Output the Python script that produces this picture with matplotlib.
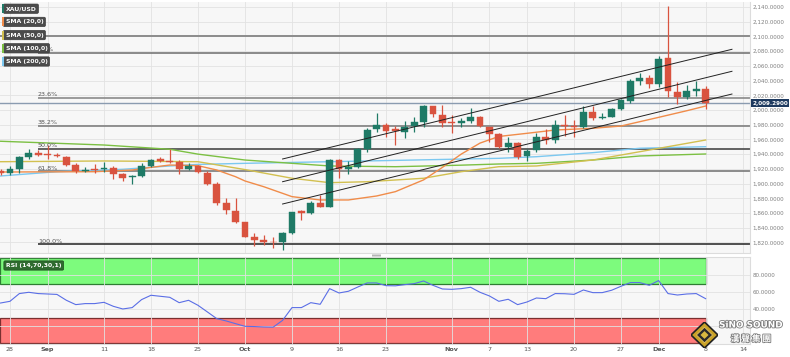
import numpy as np
import matplotlib
matplotlib.use("Agg")
import matplotlib.pyplot as plt
from matplotlib.patches import Rectangle, FancyBboxPatch, Polygon
import matplotlib.patheffects as pe

plt.rcParams['font.family'] = ['DejaVu Sans']

W, H = 790, 357

# daily XAU/USD candles, trading-day index -1 (Aug 25) .. 74 (Dec 8)
opens = [1917, 1914.8, 1919.4, 1936, 1942, 1940, 1938.5, 1936.5, 1924.8, 1917, 1920,
         1919.5, 1921, 1912.6, 1909, 1910, 1924, 1933, 1930.4, 1929, 1920,
         1924.4, 1915, 1900, 1874, 1863, 1847.3, 1827.4, 1823.3, 1821, 1820.2,
         1832.5, 1862.3, 1860, 1874, 1868.6, 1932, 1919.4, 1922, 1946.6, 1973.8,
         1980, 1974, 1970.5, 1978.2, 1983.3, 2005.4, 1993.2, 1983.7, 1982, 1985,
         1991, 1976.4, 1967.4, 1949.3, 1955.6, 1937.8, 1945.6, 1963, 1959.2, 1980,
         1978, 1977.3, 1997, 1988.6, 1991, 2001, 2012.6, 2040, 2043, 2035.3,
         2070.3, 2025, 2018, 2026, 2028]
highs = [1920, 1924, 1937.5, 1947, 1945, 1952, 1942, 1937.5, 1928.4, 1922.4, 1926,
         1929, 1924, 1914, 1911, 1928.4, 1934, 1936, 1946.6, 1932, 1927.5,
         1925.6, 1917, 1901.8, 1880, 1880, 1848, 1833, 1830, 1828, 1834.6,
         1862, 1864, 1876, 1884.5, 1933, 1934, 1931, 1948, 1976, 1996.3,
         1982.6, 1978, 1985, 1991, 2007, 2006, 2006.8, 1993, 1989, 2002.3,
         1991.5, 1977, 1969, 1963, 1957, 1947.4, 1969, 1973.8, 1986.4, 1993,
         1987, 2005.4, 2005.4, 1996.3, 2002.3, 2015.6, 2042, 2050.7, 2047.6, 2073.4,
         2141.8, 2038.5, 2034, 2039, 2032.6]
lows = [1911, 1911.7, 1914, 1934, 1937, 1933.4, 1935.5, 1924, 1914.8, 1916, 1915,
        1916, 1906.6, 1904, 1900, 1909, 1922, 1929, 1927.5, 1913, 1919,
        1914, 1898, 1871, 1859, 1846, 1827, 1815.6, 1817, 1813, 1809.7,
        1832, 1851, 1859, 1867.8, 1868, 1907, 1913, 1921, 1943.3, 1970.5,
        1963, 1952.4, 1961.5, 1970.5, 1977, 1991, 1977.3, 1969, 1977.3, 1982,
        1977, 1957, 1948, 1943.3, 1933, 1931, 1943.3, 1953.8, 1955.6, 1965,
        1963.7, 1975, 1986.4, 1987.8, 1990, 1999.5, 2009.5, 2034, 2029.5, 2031.7,
        2018, 2008, 2015, 2019.5, 2001]
closes = [1915, 1919.4, 1935.7, 1941.5, 1939, 1939, 1937, 1925.2, 1917, 1919, 1918.5,
          1921, 1913, 1908, 1910.3, 1924, 1932, 1931, 1929, 1919.4, 1924.4,
          1915.7, 1900, 1873.2, 1864, 1848, 1827.8, 1823.3, 1821, 1820, 1832.5,
          1861, 1860.4, 1874, 1868.6, 1932, 1919.4, 1922, 1946.6, 1972.8, 1979.6,
          1972, 1972, 1977.3, 1983.3, 2005.4, 1994.6, 1982.8, 1982.8, 1985, 1991,
          1978, 1967.4, 1949.3, 1955.6, 1935.7, 1944.7, 1963, 1959.2, 1979.2, 1978,
          1977, 1997, 1988.6, 1991, 2001, 2013.6, 2040, 2043, 2035.3, 2069,
          2026.2, 2018, 2025.4, 2028, 2009]

rsi = [47.4, 49.4, 58.5, 60.0, 58.5, 58.0, 57.5, 50.6, 45.5, 46.7, 46.7,
       48.2, 43.5, 40.4, 42.0, 51.4, 56.5, 55.3, 54.1, 47.8, 50.6,
       44.7, 36.9, 29.0, 26.3, 23.1, 20.0, 19.7, 19.2, 19.0, 27.0,
       42.0, 42.0, 47.8, 45.9, 64.3, 59.2, 61.2, 66.2, 71.0, 71.0,
       67.8, 67.6, 69.0, 70.2, 73.3, 68.2, 63.9, 63.5, 64.3, 65.9,
       60.0, 55.7, 49.4, 51.8, 45.5, 48.6, 53.3, 52.5, 58.5, 58.3,
       57.6, 62.7, 59.6, 59.6, 62.4, 67.1, 71.4, 71.4, 68.2, 73.8,
       58.5, 56.8, 58.0, 58.5, 52.5]

days = np.arange(-1, -1 + len(opens))

# moving averages
sma20_x = [-1, 9, 13, 15, 17, 20, 22, 24, 25, 27, 30, 33, 36, 39, 41, 44, 46, 48, 50, 52, 55, 58, 62, 65, 69, 72, 74]
sma20_y = [1915.7, 1916.1, 1918.4, 1922, 1925.2, 1924.3, 1918.4, 1909.3, 1903.5, 1895.7, 1882.2, 1877.7, 1877.7,
           1883.1, 1889, 1905, 1922, 1940, 1955, 1964, 1968.3, 1972.8, 1975.1, 1978.2, 1990, 1999, 2005.4]
sma50_x = [-1, 10, 20, 25, 30, 34, 38, 44, 48, 52, 56, 62, 67, 74]
sma50_y = [1929.7, 1930.7, 1929.7, 1919, 1907.2, 1901.2, 1902.5, 1907.2, 1916.1, 1922.9, 1923.9, 1932, 1943.3, 1959.2]
sma100_x = [-1, 10, 17, 20, 25, 30, 34, 41, 48, 52, 56, 62, 67, 74]
sma100_y = [1957.5, 1952.4, 1946.6, 1940, 1932, 1927.5, 1923.9, 1922.9, 1925, 1926.6, 1927.5, 1932, 1937.5, 1940.2]
sma200_x = [-1, 5, 12, 17, 20, 25, 34, 43, 52, 56, 62, 67, 74]
sma200_y = [1910.3, 1916.1, 1919.4, 1923.9, 1926, 1927.5, 1929.7, 1932, 1934.3, 1936.5, 1942, 1948, 1950.1]

fib_levels = [2077.5, 2016.2, 1978.3, 1947.5, 1916.9, 1817.5]
fib_labels = ['0.0%', '23.6%', '38.2%', '50.0%', '61.8%', '100.0%']
resistance = 2100
last_price = 2009.29

channel_x = [29, 76.8]
channel_upper = [1933.4, 2082.5]
channel_mid = [1902.5, 2052.6]
channel_lower = [1872.2, 2021.7]

tick_pos = [0, 4, 10, 15, 20, 25, 30, 35, 40, 47, 51, 55, 60, 65, 69, 74, 78]
tick_lab = ['28', 'Sep', '11', '18', '25', 'Oct', '9', '16', '23', 'Nov', '7', '13', '20', '27', 'Dec', '8', '14']
months = {'Sep', 'Oct', 'Nov', 'Dec'}

price_ticks = np.arange(1820, 2141, 20)
rsi_ticks = [20, 40, 60, 80]

bull, bear = '#1f7a66', '#d9533f'
c20, c50, c100, c200 = '#f08c4a', '#d2c050', '#7cc043', '#7cc8f0'
XL = (-1.06, 78.72)
TICK_FS = 4.1


def fbox(x0, y0, x1, y1):
    return [x0 / W, 1 - y1 / H, (x1 - x0) / W, (y1 - y0) / H]


fig = plt.figure(figsize=(7.9, 3.57), dpi=100)
fig.patch.set_facecolor('white')

# ---- price panel
ax = fig.add_axes(fbox(0, 2, 750, 253))
ax.set_facecolor('#f7f7f7')
ax.set_xlim(*XL)
ax.set_ylim(1805.6, 2146.8)

o, hh, ll, c = map(np.array, (opens, highs, lows, closes))
col = np.where(c >= o, bull, bear)
ax.vlines(days, ll, hh, colors=col, lw=0.9, zorder=4)
ax.bar(days, np.maximum(np.abs(c - o), 0.9), bottom=np.minimum(o, c), width=0.72,
       color=col, edgecolor=col, lw=0.3, zorder=5)

ax.plot(sma200_x, sma200_y, color=c200, lw=1.0, zorder=3)
ax.plot(sma100_x, sma100_y, color=c100, lw=1.0, zorder=3)
ax.plot(sma50_x, sma50_y, color=c50, lw=1.0, zorder=3)
ax.plot(sma20_x, sma20_y, color=c20, lw=1.0, zorder=3)

fib_cols = ['#777777', '#8a8a8a', '#808080', '#4a4a4a', '#7a7a7a', '#333333']
for lvl, lab, fc in zip(fib_levels, fib_labels, fib_cols):
    ax.hlines(lvl, 2.98, XL[1], color=fc, lw=1.2, zorder=2)
    ax.text(2.98, lvl + 0.8, lab, fontsize=4.6, color='#555555', va='bottom', ha='left', zorder=6)
ax.axhline(resistance, color='#8c8c8c', lw=1.4, zorder=2)
ax.axhline(last_price, color='#8a9bb0', lw=1.0, zorder=2)

for ch in (channel_upper, channel_mid, channel_lower):
    ax.plot(channel_x, ch, color='#222222', lw=0.7, zorder=6)

ax.yaxis.tick_right()
ax.set_yticks(price_ticks)
ax.set_yticklabels([f"{v:,.4f}" for v in price_ticks])
ax.tick_params(axis='y', length=0, pad=2, labelsize=TICK_FS, labelcolor='#808080')
ax.set_xticks(tick_pos)
ax.tick_params(axis='x', length=0, labelbottom=False)
ax.grid(True, color='#e2e2e2', lw=0.6)
for s in ax.spines.values():
    s.set_color('#dcdcdc')
    s.set_linewidth(0.8)
ax.spines['top'].set_visible(False)
ax.spines['left'].set_visible(False)

ax.text(1.003, last_price, f"{last_price:,.4f}", transform=ax.get_yaxis_transform(),
        fontsize=TICK_FS, color='white', weight='bold', va='center', ha='left',
        bbox=dict(boxstyle='square,pad=0.25', fc='#1e3a5f', ec='none'), clip_on=False)

# ---- RSI panel
rx = fig.add_axes(fbox(0, 257, 750, 344))
rx.set_facecolor('#f7f7f7')
rx.set_xlim(*XL)
rx.set_ylim(-0.8, 101.5)
rx.add_patch(Rectangle((XL[0], 70), days[-1] - XL[0], 30, fc='#7dfb7d', ec='#2e7d32', lw=0.9, zorder=1))
rx.add_patch(Rectangle((XL[0], 0), days[-1] - XL[0], 30, fc='#ff7c7c', ec='#7a3030', lw=0.9, zorder=1))
rx.plot(days, rsi, color='#5a6ee6', lw=0.8, zorder=4)
rx.yaxis.tick_right()
rx.set_yticks(rsi_ticks)
rx.set_yticklabels([f"{v:.4f}" for v in rsi_ticks])
rx.tick_params(axis='y', length=0, pad=2, labelsize=TICK_FS, labelcolor='#808080')
rx.set_xticks(tick_pos)
rx.set_xticklabels(tick_lab)
rx.tick_params(axis='x', length=0, pad=2, labelsize=4.6, labelcolor='#555555')
for t in rx.get_xticklabels():
    if t.get_text() in months:
        t.set_fontweight('bold')
rx.grid(True, color='#e2e2e2', lw=0.6)
for s in rx.spines.values():
    s.set_color('#dcdcdc')
    s.set_linewidth(0.8)
rx.spines['left'].set_visible(False)

# panel divider handle
fig.add_artist(FancyBboxPatch((372 / W, 1 - 256.5 / H), 9 / W, 2 / H, boxstyle='round,pad=0',
                              transform=fig.transFigure, fc='#b5b5b5', ec='none'))

# ---- legend tags
legend_items = [("XAU/USD", bull), ("SMA (20,0)", c20), ("SMA (50,0)", c50),
                ("SMA (100,0)", c100), ("SMA (200,0)", c200)]
for k, (lab, cc) in enumerate(legend_items):
    yc = 8.7 + k * 13.2
    fig.text(5.5 / W, 1 - yc / H, lab, fontsize=4.4, color='white', weight='bold', va='center', ha='left',
             bbox=dict(boxstyle='round,pad=0.35,rounding_size=0.2', fc='#4b4b4b', ec='#3a3a3a', lw=0.5))
    fig.add_artist(Rectangle((2 / W, 1 - (yc + 4.5) / H), 2 / W, 9 / H, transform=fig.transFigure,
                             fc=cc, ec='none', zorder=10))

fig.text(6 / W, 1 - 265.5 / H, "RSI (14,70,30,1)", fontsize=4.4, color='white', weight='bold',
         va='center', ha='left',
         bbox=dict(boxstyle='round,pad=0.35,rounding_size=0.2', fc='#2f6b2f', ec='#1f4f1f', lw=0.5))

# ---- watermark
lg = fig.add_axes(fbox(691, 322, 718, 348))
lg.set_xlim(-1, 1)
lg.set_ylim(-1, 1)
lg.axis('off')
lg.add_patch(Polygon([(0, 1), (1, 0), (0, -1), (-1, 0)], fc='#c9a227', ec='#222222', lw=1.2))
lg.add_patch(Polygon([(0, 0.6), (0.6, 0), (0, -0.6), (-0.6, 0)], fc='#2b2b2b', ec='#e0c060', lw=0.6))
lg.add_patch(Polygon([(0, 0.3), (0.3, 0), (0, -0.3), (-0.3, 0)], fc='#d8b840', ec='none'))
stroke = [pe.withStroke(linewidth=1.2, foreground='#7a7a7a')]
fig.text(751 / W, 1 - 325 / H, "SiNO SOUND", fontsize=6.4, weight='bold', color='white',
         ha='center', va='center', path_effects=stroke)
fig.text(751 / W, 1 - 339 / H, "漢 聲 集 團", fontsize=6.2, weight='bold', color='white',
         ha='center', va='center', path_effects=stroke,
         family=['Noto Sans CJK TC', 'DejaVu Sans'])

fig.savefig("out.png", dpi=100, facecolor=fig.get_facecolor())
